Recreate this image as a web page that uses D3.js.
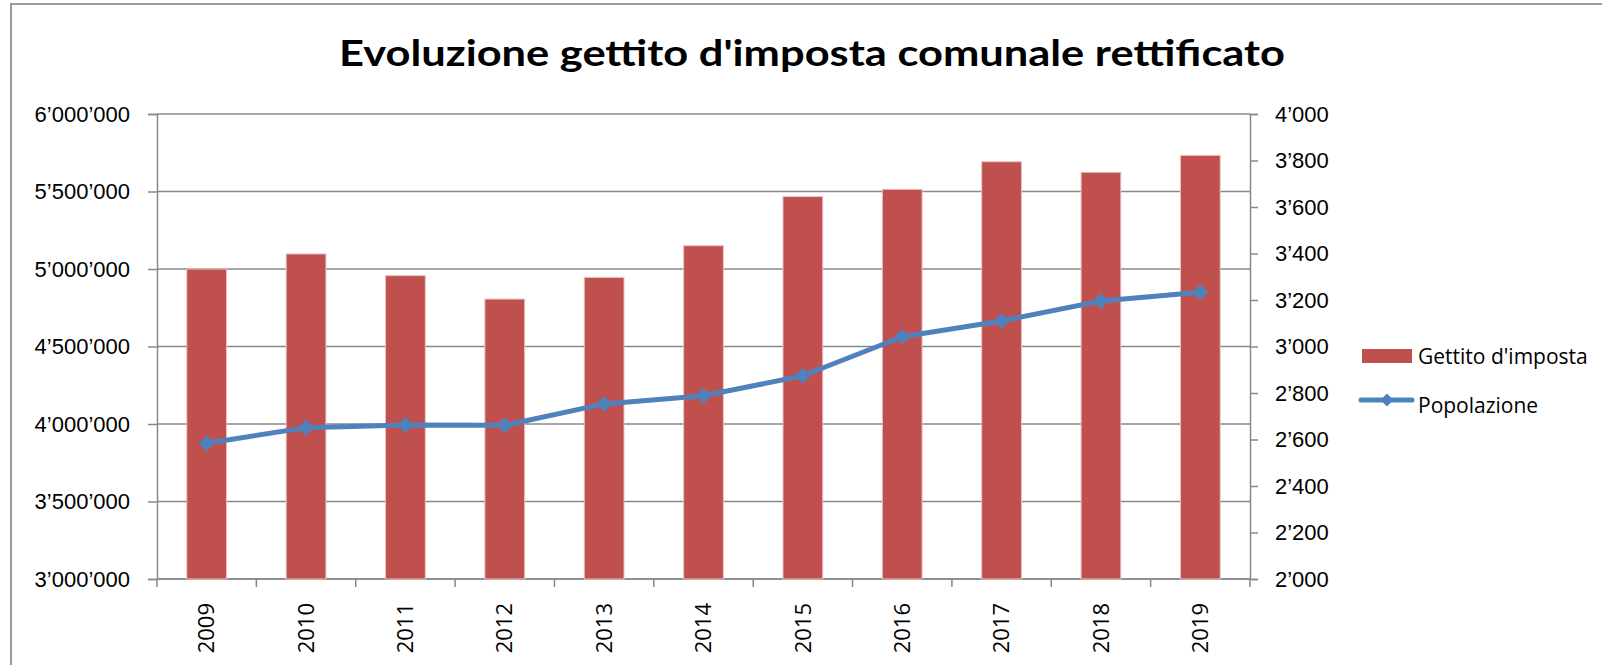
<!DOCTYPE html>
<html lang="it">
<head>
  <meta charset="UTF-8">
  <title>Evoluzione gettito d'imposta comunale rettificato</title>
  <script src="https://d3js.org/d3.v7.min.js"></script>
  <style>
    body { margin: 0; background: #fff; font-family: "Open Sans", "Noto Sans", sans-serif; }
    .tick-label { font-size: 22px; fill: #000; }
    .legend-label { font-size: 21px; fill: #000; }
  </style>
</head>
<body>
  <svg width="1602" height="665"></svg>

  <script>
    const years = ["2009", "2010", "2011", "2012", "2013", "2014", "2015", "2016", "2017", "2018", "2019"];
    const gettito = [5000000, 5097000, 4957000, 4806000, 4946000, 5150000, 5467000, 5514000, 5692000, 5624000, 5733000];
    const popolazione = [2584, 2651, 2662, 2661, 2753, 2788, 2874, 3042, 3110, 3196, 3233];
    const leftTicks = [3000000, 3500000, 4000000, 4500000, 5000000, 5500000, 6000000];
    const rightTicks = [2000, 2200, 2400, 2600, 2800, 3000, 3200, 3400, 3600, 3800, 4000];

    const plot = { left: 157, right: 1250, top: 114, bottom: 579 };
    const gray = "#888";
    const barColor = "#C0504D";
    const lineColor = "#4F81BD";

    const svg = d3.select("svg");

    // swiss style thousands with ’
    const fmt = d3.formatLocale({ decimal: ".", thousands: "\u2019", grouping: [3], currency: ["", ""] }).format(",");

    // outer frame of the chart
    svg.append("rect")
      .attr("x", 11).attr("y", 4)
      .attr("width", 1620).attr("height", 700)
      .attr("fill", "none")
      .attr("stroke", "#9a9a9a")
      .attr("stroke-width", 2);

    // Title
    svg.append("text")
      .attr("x", 812)
      .attr("y", 66)
      .attr("text-anchor", "middle")
      .attr("textLength", 946)
      .attr("lengthAdjust", "spacingAndGlyphs")
      .style("font-family", "Lato, 'Open Sans', sans-serif")
      .style("font-weight", "bold")
      .style("font-size", "37px")
      .text("Evoluzione gettito d'imposta comunale rettificato");

    // Scales
    const x = d3.scaleBand()
      .domain(years)
      .range([plot.left, plot.right])
      .padding(0);

    const yLeft = d3.scaleLinear()
      .domain([3000000, 6000000])
      .range([plot.bottom, plot.top]);

    const yRight = d3.scaleLinear()
      .domain([2000, 4000])
      .range([plot.bottom, plot.top]);

    // Gridlines
    svg.append("g")
      .selectAll("line")
      .data(leftTicks)
      .enter()
      .append("line")
      .attr("x1", plot.left)
      .attr("x2", plot.right)
      .attr("y1", d => yLeft(d))
      .attr("y2", d => yLeft(d))
      .attr("stroke", gray)
      .attr("stroke-width", 1.5);

    // Left axis
    const leftAxis = svg.append("g")
      .attr("transform", `translate(${plot.left},0)`)
      .call(d3.axisLeft(yLeft).tickValues(leftTicks).tickFormat(fmt).tickSize(9).tickPadding(18));
    leftAxis.select(".domain").attr("stroke", gray).attr("stroke-width", 1.5);
    leftAxis.selectAll(".tick line").attr("stroke", gray).attr("stroke-width", 1.5);
    leftAxis.selectAll(".tick text").attr("class", "tick-label").attr("font-family", null).attr("font-size", null);

    // Right axis
    const rightAxis = svg.append("g")
      .attr("transform", `translate(${plot.right},0)`)
      .call(d3.axisRight(yRight).tickValues(rightTicks).tickFormat(fmt).tickSize(8).tickPadding(17));
    rightAxis.select(".domain").attr("stroke", gray).attr("stroke-width", 1.5);
    rightAxis.selectAll(".tick line").attr("stroke", gray).attr("stroke-width", 1.5);
    rightAxis.selectAll(".tick text").attr("class", "tick-label").attr("font-family", null).attr("font-size", null);

    // Bottom axis (ticks at category boundaries)
    const boundaries = years.map(d => x(d)).concat([plot.right]);
    svg.append("line")
      .attr("x1", plot.left).attr("x2", plot.right)
      .attr("y1", plot.bottom).attr("y2", plot.bottom)
      .attr("stroke", gray).attr("stroke-width", 1.5);
    svg.append("g")
      .selectAll("line")
      .data(boundaries)
      .enter()
      .append("line")
      .attr("x1", d => d).attr("x2", d => d)
      .attr("y1", plot.bottom).attr("y2", plot.bottom + 8)
      .attr("stroke", gray).attr("stroke-width", 1.5);

    svg.append("g")
      .selectAll("text")
      .data(years)
      .enter()
      .append("text")
      .attr("class", "tick-label")
      .attr("transform", d => `translate(${x(d) + x.bandwidth() / 2},603) rotate(-90)`)
      .attr("text-anchor", "end")
      .attr("dy", "0.35em")
      .text(d => d);

    // Bars
    const barW = x.bandwidth() * 0.4;
    svg.append("g")
      .selectAll("rect")
      .data(years)
      .enter()
      .append("rect")
      .attr("x", d => x(d) + (x.bandwidth() - barW) / 2)
      .attr("y", (d, i) => yLeft(gettito[i]))
      .attr("width", barW)
      .attr("height", (d, i) => plot.bottom - yLeft(gettito[i]))
      .attr("fill", barColor)
      .attr("stroke", "#e8c2c1")
      .attr("stroke-width", 1);

    // Population line
    const line = d3.line()
      .x((d, i) => x(years[i]) + x.bandwidth() / 2)
      .y(d => yRight(d));

    svg.append("path")
      .datum(popolazione)
      .attr("d", line)
      .attr("fill", "none")
      .attr("stroke", lineColor)
      .attr("stroke-width", 5)
      .attr("stroke-linejoin", "round")
      .attr("stroke-linecap", "round");

    const diamond = d3.symbol().type(d3.symbolDiamond2).size(165);
    svg.append("g")
      .selectAll("path")
      .data(popolazione)
      .enter()
      .append("path")
      .attr("d", diamond)
      .attr("transform", (d, i) => `translate(${x(years[i]) + x.bandwidth() / 2},${yRight(d)})`)
      .attr("fill", lineColor);

    // Legend
    const legend = svg.append("g");
    legend.append("rect")
      .attr("x", 1362).attr("y", 349)
      .attr("width", 50).attr("height", 14)
      .attr("fill", barColor);
    legend.append("text")
      .attr("class", "legend-label")
      .attr("x", 1418).attr("y", 364)
      .text("Gettito d'imposta");

    legend.append("line")
      .attr("x1", 1361).attr("x2", 1412)
      .attr("y1", 400).attr("y2", 400)
      .attr("stroke", lineColor)
      .attr("stroke-width", 5)
      .attr("stroke-linecap", "round");
    legend.append("path")
      .attr("d", d3.symbol().type(d3.symbolDiamond2).size(105))
      .attr("transform", "translate(1387,400)")
      .attr("fill", lineColor);
    legend.append("text")
      .attr("class", "legend-label")
      .attr("x", 1418).attr("y", 413)
      .text("Popolazione");
  </script>
</body>
</html>
